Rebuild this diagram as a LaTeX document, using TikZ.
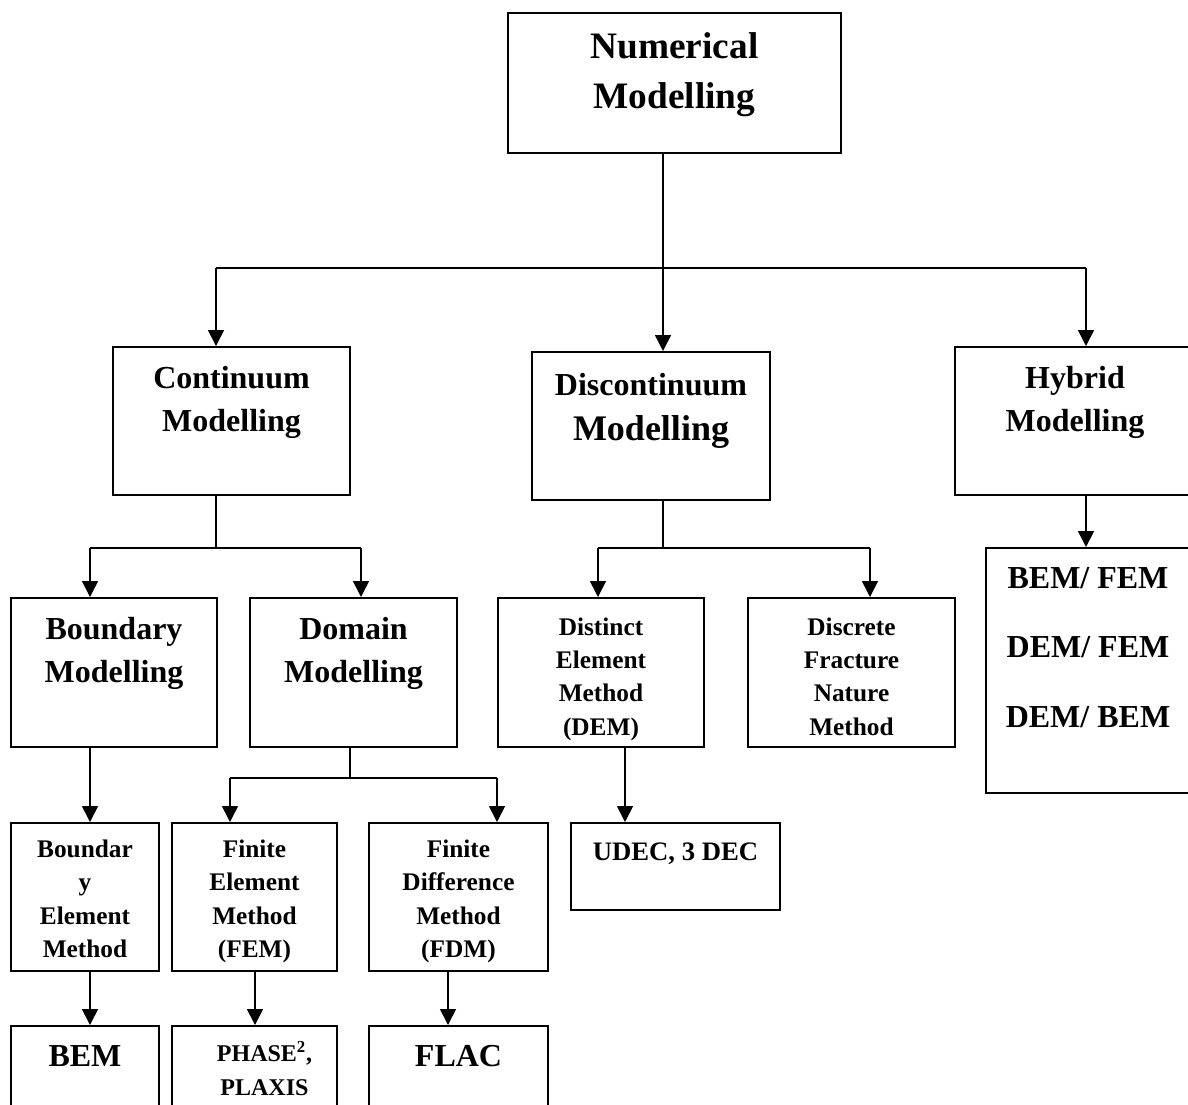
\documentclass[tikz,border=0pt]{standalone}
\usepackage{fontspec}
\setmainfont{Liberation Serif}
\usetikzlibrary{arrows.meta}
\begin{document}
\begin{tikzpicture}[x={(0.75pt,0pt)}, y={(0pt,-0.75pt)}, thick,
    main/.style = {draw, rectangle, line width=1.5pt, inner sep=0pt},
    sz/.style 2 args = {minimum width=#1*0.75pt, minimum height=#2*0.75pt},
    txt/.style = {anchor=north, yshift=-15pt, align=center, inner sep=0pt, font=\bfseries\fontsize{24}{32}\selectfont},
    small/.style = {font=\bfseries\fontsize{19}{25}\selectfont},
    link/.style = {line width=1.2pt},
    >={Triangle[width=12pt,length=12pt]}]
    \clip (0,0) rectangle (1188,1104);
    \node[main, sz={333}{140}, label={[txt, font=\bfseries\fontsize{28}{37.5}\selectfont]north:{Numerical\\Modelling}}] (1) at (674.5,83) {};
    \node[main, sz={237}{148}, label={[txt]north:{Continuum\\Modelling}}] (2) at (231.5,421) {};
    \node[main, sz={238}{148}, label={[txt, yshift=-1pt, font=\bfseries\fontsize{24}{34}\selectfont]north:{Discontinuum\\{\fontsize{27}{34}\selectfont Modelling}}}] (3) at (651,426) {};
    \node[main, sz={260}{148}, label={[txt, xshift=-7.5pt]north:{Hybrid\\Modelling}}] (4) at (1085,421) {};
    \node[main, sz={206}{149}, label={[txt]north:{Boundary\\Modelling}}] (5) at (114,672.5) {};
    \node[main, sz={207}{149}, label={[txt]north:{Domain\\Modelling}}] (6) at (353.5,672.5) {};
    \node[main, sz={206}{149}, label={[txt, small]north:{Distinct\\Element\\Method\\(DEM)}}] (7) at (601,672.5) {};
    \node[main, sz={207}{149}, label={[txt, small]north:{Discrete\\Fracture\\Nature\\Method}}] (8) at (851.5,672.5) {};
    \node[main, sz={230}{245}, label={[txt, xshift=-9.75pt, font=\bfseries\fontsize{24}{52}\selectfont]north:{BEM/ FEM\\DEM/ FEM\\DEM/ BEM}}] (9) at (1101,670.5) {};
    \node[main, sz={209}{87}, label={[txt, font=\bfseries\fontsize{20}{25}\selectfont]north:{UDEC, 3 DEC}}] (10) at (675.5,866.5) {};
    \node[main, sz={148}{148}, label={[txt, small, yshift=2pt]north:{Boundar\\y\\Element\\Method}}] (11) at (85,897) {};
    \node[main, sz={165}{148}, label={[txt, small, yshift=2pt]north:{Finite\\Element\\Method\\(FEM)}}] (12) at (254.5,897) {};
    \node[main, sz={179}{148}, label={[txt, small, yshift=2pt]north:{Finite\\Difference\\Method\\(FDM)}}] (13) at (458.5,897) {};
    \node[main, sz={148}{124}, label={[txt]north:{BEM}}] (14) at (85,1088) {};
    \node[main, sz={165}{124}, label={[txt, xshift=7.5pt, yshift=3pt, font=\bfseries\fontsize{18}{26}\selectfont]north:{PHASE\textsuperscript{2},\\PLAXIS}}] (15) at (254.5,1088) {};
    \node[main, sz={179}{124}, label={[txt]north:{FLAC}}] (16) at (458.5,1088) {};
    \coordinate (a) at (663,268);
    \coordinate (al) at (216,268);
    \coordinate (ar) at (1086,268);
    \coordinate (b) at (216,548);
    \coordinate (bl) at (90,548);
    \coordinate (br) at (361,548);
    \coordinate (c) at (663,548);
    \coordinate (cl) at (598,548);
    \coordinate (cr) at (870,548);
    \coordinate (d) at (350,778);
    \coordinate (dl) at (230,778);
    \coordinate (dr) at (497,778);
    \coordinate (e) at (625,790);
    \coordinate (f) at (448,1000);
    \coordinate (g) at (255,1000);
    \draw[link] (1.south -| a) -- (a);
    \draw[link] (al) -- (ar);
    \foreach \p/\q in {al/2, a/3, ar/4} \draw[link, ->] (\p) -- (\p |- \q.north);
    \draw[link] (2.south -| b) -- (b);
    \draw[link] (bl) -- (br);
    \foreach \p/\q in {bl/5, br/6} \draw[link, ->] (\p) -- (\p |- \q.north);
    \draw[link] (3.south -| c) -- (c);
    \draw[link] (cl) -- (cr);
    \foreach \p/\q in {cl/7, cr/8} \draw[link, ->] (\p) -- (\p |- \q.north);
    \draw[link, ->] (4.south -| ar) -- (9.north -| ar);
    \draw[link, ->] (5.south -| bl) -- (11.north -| bl);
    \draw[link] (6.south -| d) -- (d);
    \draw[link] (dl) -- (dr);
    \foreach \p/\q in {dl/12, dr/13} \draw[link, ->] (\p) -- (\p |- \q.north);
    \draw[link, ->] (7.south -| e) -- (10.north -| e);
    \draw[link, ->] (11.south -| bl) -- (14.north -| bl);
    \draw[link, ->] (12.south -| g) -- (15.north -| g);
    \draw[link, ->] (13.south -| f) -- (16.north -| f);
\end{tikzpicture}
\end{document}
